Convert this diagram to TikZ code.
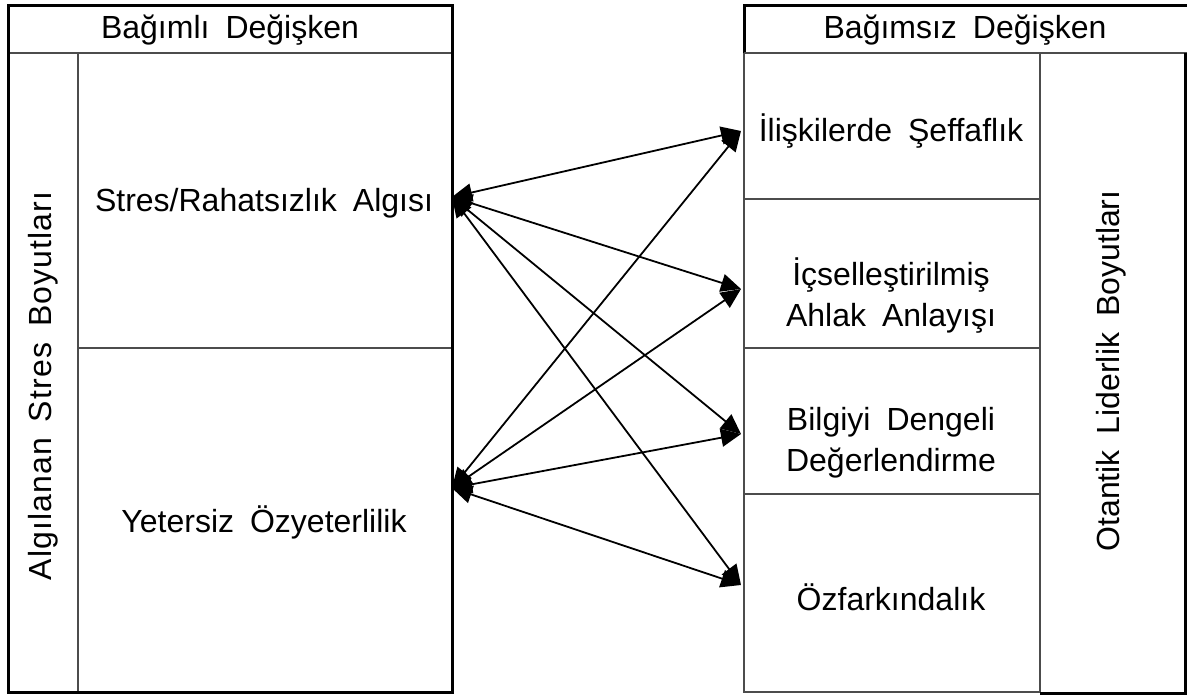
\documentclass[tikz,border=0pt]{standalone}
\usepackage{fontspec}
\setmainfont{Liberation Sans}
\usetikzlibrary{arrows.meta}
\newcommand{\ws}{\hspace{0.5em}}
\begin{document}
\begin{tikzpicture}[x=1pt,y=-1pt,
  lbl/.style={font=\fontsize{32}{41}\selectfont, align=center, inner sep=0pt},
  thin box/.style={draw=black!70, line width=1.2pt},
  thick box/.style={draw=black, line width=3pt},
  link/.style={line width=1.8pt, {Triangle[length=20pt,width=18pt]}-{Triangle[length=20pt,width=18pt]}}]
\useasboundingbox (0,0) rectangle (1187,696);
% left block
\draw[thin box] (8,53) -- (452,53);
\draw[thin box] (78,53) -- (78,692);
\draw[thin box] (78,348) -- (452,348);
\draw[thick box] (8,5) rectangle (452,692);
\node[lbl] (dep) at (230,30) {Bağımlı\ws Değişken};
\node[lbl, rotate=90] (algi) at (43,386) {\addfontfeatures{LetterSpace=3.5}Algılanan\ws Stres\ws Boyutları};
\node[lbl] (stres) at (264,203) {Stres/Rahatsızlık\ws Algısı};
\node[lbl] (yet) at (264,522) {Yetersiz\ws Özyeterlilik};
% right block
\draw[thin box] (744,53) rectangle (1040,692);
\draw[thin box] (744,199) -- (1040,199);
\draw[thin box] (744,348) -- (1040,348);
\draw[thin box] (744,494) -- (1040,494);
\draw[thin box] (1040,53) -- (1040,692);
\draw[thick box] (744,53) |- (744,5) -- (1187,5);
\draw[thin box] (744,53) -- (1187,53);
\draw[thick box] (1185,53) -- (1185,693) -- (1040,693);
\node[lbl] (indep) at (965,30) {Bağımsız\ws Değişken};
\node[lbl, rotate=90] (otan) at (1111,371) {Otantik\ws Liderlik\ws Boyutları};
\node[lbl] (ilis) at (891,131) {İlişkilerde\ws Şeffaflık};
\node[lbl] (icse) at (891,296) {İçselleştirilmiş\\Ahlak\ws Anlayışı};
\node[lbl] (bilg) at (891,443) {Bilgiyi\ws Dengeli\\Değerlendirme};
\node[lbl] (ozf) at (891,597) {Özfarkındalık};
% connector endpoints
\coordinate (pS) at (452,197);
\coordinate (pY) at (452,488);
\coordinate (p1) at (741,131);
\coordinate (p2) at (741,289);
\coordinate (p3) at (741,434);
\coordinate (p4) at (741,585);
\foreach \a in {pS,pY}{
  \foreach \b in {p1,p2,p3,p4}{
    \draw[link] (\a) -- (\b);
  }
}
\end{tikzpicture}
\end{document}
